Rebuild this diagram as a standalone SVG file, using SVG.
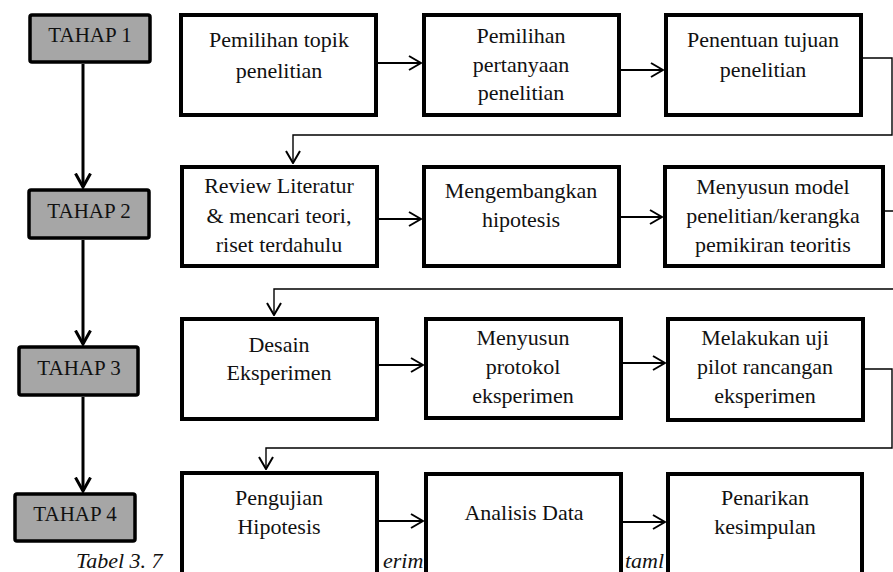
<svg xmlns="http://www.w3.org/2000/svg" width="893" height="572" viewBox="0 0 893 572">
<style>
.bg{fill:#ffffff}
.box{fill:#ffffff;stroke:#000;stroke-width:4}
.tahap{fill:#a6a6a6;stroke:#000;stroke-width:3.5}
.t{font-family:"Liberation Serif","Times New Roman",serif;font-size:22px;fill:#111;text-anchor:middle}
.th{font-family:"Liberation Serif","Times New Roman",serif;font-size:21px;fill:#111;text-anchor:middle}
.cap{font-family:"Liberation Serif","Times New Roman",serif;font-size:22px;font-style:italic;fill:#111}
.arr{fill:none;stroke:#000;stroke-width:2;marker-end:url(#oh)}
.conn{fill:none;stroke:#000;stroke-width:1.4;marker-end:url(#oh)}
.varr{fill:none;stroke:#000;stroke-width:3;marker-end:url(#ohb)}
</style>
<defs>
<marker id="oh" markerUnits="userSpaceOnUse" viewBox="0 0 14 16" refX="13" refY="8" markerWidth="14" markerHeight="16" orient="auto">
<path d="M1,1 L13,8 L1,15" fill="none" stroke="#000" stroke-width="2"/>
</marker>
<marker id="ohb" markerUnits="userSpaceOnUse" viewBox="0 0 16 18" refX="14.5" refY="9" markerWidth="16" markerHeight="18" orient="auto">
<path d="M1,1.5 L14.5,9 L1,16.5" fill="none" stroke="#000" stroke-width="3"/>
</marker>
</defs>
<rect class="bg" x="0" y="0" width="893" height="572"/>
<g id="caption">
<text class="cap" x="76" y="568">Tabel 3. 7</text>
<text class="cap" x="383" y="568">erim</text>
<text class="cap" x="625" y="568">taml</text>
</g>
<g id="connectors">
<path class="varr" d="M83,64 V187"/>
<path class="varr" d="M83,240 V344"/>
<path class="varr" d="M83,397 V491"/>
<path class="arr" d="M378,63 H421"/>
<path class="arr" d="M621,70 H663"/>
<path class="arr" d="M379,219 H421"/>
<path class="arr" d="M621,217 H662"/>
<path class="arr" d="M379,365 H423"/>
<path class="arr" d="M623,363 H665"/>
<path class="arr" d="M379,521 H423"/>
<path class="arr" d="M623,522 H665"/>
<path class="conn" d="M863,58 H892 V135 H293 V163"/>
<path class="conn" d="M885,211 H897 V289 H274 V315"/>
<path class="conn" d="M865,369 H892 V448 H266 V469"/>
</g>
<g id="tahap1"><rect class="tahap" x="30" y="15" width="120" height="47" rx="2"/><text class="th" x="90" y="42">TAHAP 1</text></g>
<g id="tahap2"><rect class="tahap" x="29" y="190" width="120" height="48" rx="2"/><text class="th" x="89" y="218">TAHAP 2</text></g>
<g id="tahap3"><rect class="tahap" x="19" y="347" width="119" height="48" rx="2"/><text class="th" x="79" y="375">TAHAP 3</text></g>
<g id="tahap4"><rect class="tahap" x="15" y="494" width="120" height="47" rx="2"/><text class="th" x="75" y="521">TAHAP 4</text></g>
<g id="boxA"><rect class="box" x="181" y="15" width="195" height="100"/><text class="t" x="279" y="47">Pemilihan topik</text><text class="t" x="279" y="78">penelitian</text></g>
<g id="boxB"><rect class="box" x="424" y="15" width="195" height="100"/><text class="t" x="521" y="43">Pemilihan</text><text class="t" x="521" y="72">pertanyaan</text><text class="t" x="521" y="100">penelitian</text></g>
<g id="boxC"><rect class="box" x="666" y="15" width="195" height="100"/><text class="t" x="763" y="47">Penentuan tujuan</text><text class="t" x="763" y="77">penelitian</text></g>
<g id="boxD"><rect class="box" x="182" y="167" width="195" height="99"/><text class="t" x="279" y="193">Review Literatur</text><text class="t" x="279" y="223">&amp; mencari teori,</text><text class="t" x="279" y="252">riset terdahulu</text></g>
<g id="boxE"><rect class="box" x="424" y="167" width="195" height="99"/><text class="t" x="521" y="198">Mengembangkan</text><text class="t" x="521" y="227">hipotesis</text></g>
<g id="boxF"><rect class="box" x="665" y="167" width="218" height="99"/><text class="t" x="773" y="194">Menyusun model</text><text class="t" x="773" y="223">penelitian/kerangka</text><text class="t" x="773" y="252">pemikiran teoritis</text></g>
<g id="boxG"><rect class="box" x="182" y="319" width="195" height="100"/><text class="t" x="279" y="352">Desain</text><text class="t" x="279" y="380">Eksperimen</text></g>
<g id="boxH"><rect class="box" x="426" y="319" width="195" height="99"/><text class="t" x="523" y="345">Menyusun</text><text class="t" x="523" y="374">protokol</text><text class="t" x="523" y="403">eksperimen</text></g>
<g id="boxI"><rect class="box" x="668" y="319" width="195" height="101"/><text class="t" x="765" y="345">Melakukan uji</text><text class="t" x="765" y="374">pilot rancangan</text><text class="t" x="765" y="403">eksperimen</text></g>
<g id="boxJ"><rect class="box" x="182" y="473" width="195" height="120"/><text class="t" x="279" y="505">Pengujian</text><text class="t" x="279" y="534">Hipotesis</text></g>
<g id="boxK"><rect class="box" x="426" y="474" width="195" height="120"/><text class="t" x="524" y="520">Analisis Data</text></g>
<g id="boxL"><rect class="box" x="668" y="474" width="194" height="120"/><text class="t" x="765" y="505">Penarikan</text><text class="t" x="765" y="534">kesimpulan</text></g>
</svg>
